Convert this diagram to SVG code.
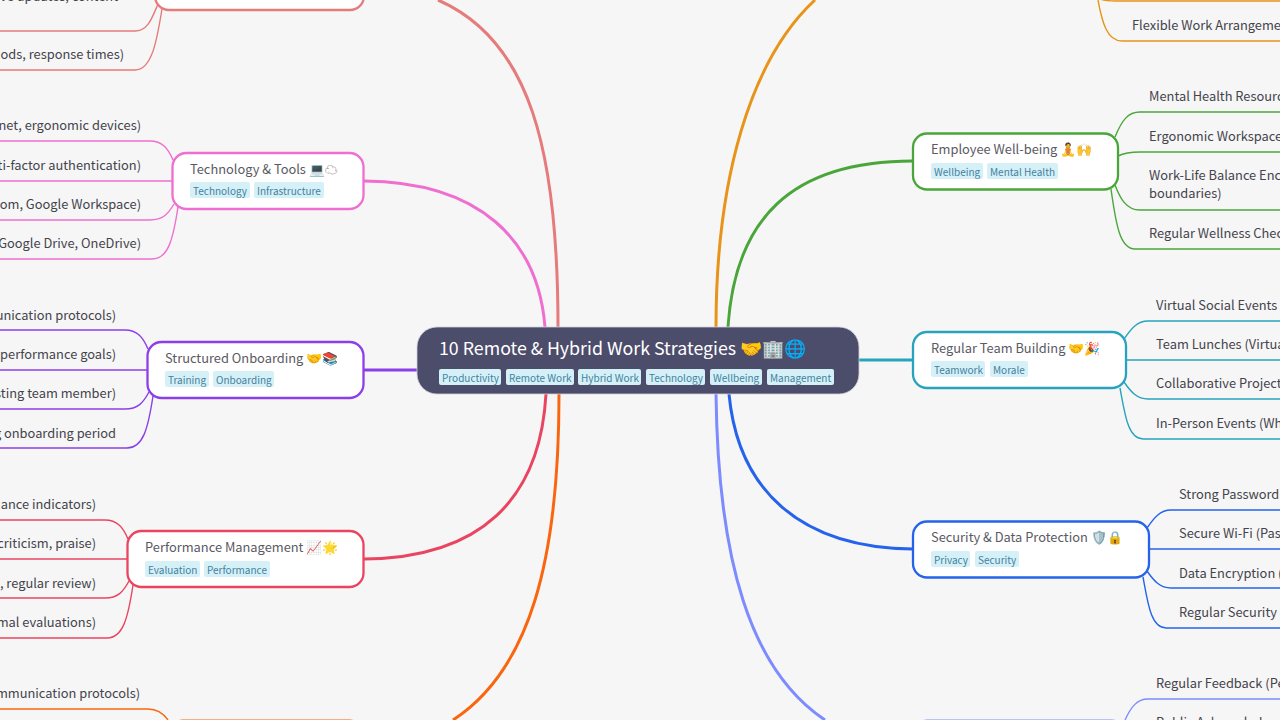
<svg xmlns="http://www.w3.org/2000/svg" width="1280" height="720" viewBox="0 0 1280 720">
<defs><style>
text{font-family:"Noto Sans CJK SC","Noto Sans",sans-serif}
.leaf{font-size:12.850px;fill:#44444c}
.title{font-size:12.850px;fill:#5a5a62}
.tag{font-size:10px;fill:#42829e}
.tb{fill:#d6f0f8}
.card{fill:#fff;stroke-width:2.300}
.c{fill:none;stroke-width:1.400}
.m{fill:none;stroke-width:3}
</style></defs>
<rect width="1280" height="720" fill="#f6f6f6"/>
<g id="connectors">
<path class="m" stroke="#e57b7b" d="M558 327C558 150 530 40 438 0"/>
<path class="m" stroke="#ef6fd0" d="M545 327C538 240 480 182 364 181"/>
<path class="m" stroke="#8b3fe8" d="M417 370H364"/>
<path class="m" stroke="#e94560" d="M546 394C540 500 480 558 364 559"/>
<path class="m" stroke="#f9660f" d="M559 394C559 560 530 670 453 720"/>
<path class="m" stroke="#e8941a" d="M716 327C716 180 750 60 815 0"/>
<path class="m" stroke="#4aa63a" d="M728 327C735 220 790 161 913 161"/>
<path class="m" stroke="#28a3bd" d="M859 360H913"/>
<path class="m" stroke="#2563eb" d="M729 394C738 490 800 548 913 549"/>
<path class="m" stroke="#7c8cff" d="M716 394C718 560 750 670 825 720"/>
<g class="c" stroke="#e57b7b"><path d="M0 31H135C148 31 152 18 158 4"/><path d="M0 70H135C152 70 157 40 162 9"/></g>
<g class="c" stroke="#ef6fd0"><path d="M0 141H150C162 141 168 148 173 160"/><path d="M0 181H173"/><path d="M0 220H150C163 220 168 214 174 204"/><path d="M0 259H152C168 259 173 240 178 207"/></g>
<g class="c" stroke="#8b3fe8"><path d="M0 330H125C137 330 143 337 148 349"/><path d="M0 370H148"/><path d="M0 409H125C138 409 143 403 149 392"/><path d="M0 448H127C143 448 148 429 153 396"/></g>
<g class="c" stroke="#e94560"><path d="M0 520H105C117 520 123 527 128 539"/><path d="M0 559H127"/><path d="M0 598H105C118 598 123 592 129 581"/><path d="M0 638H107C123 638 128 618 133 585"/></g>
<g class="c" stroke="#f9660f"><path d="M0 709H148C157 709 163 713 168 720"/></g>
<g class="c" stroke="#e8941a"><path d="M1280 1H1115C1105 1 1100 0 1097 -3"/><path d="M1280 41H1122C1107 41 1102 22 1098 0"/></g>
<g class="c" stroke="#4aa63a"><path d="M1280 112H1140C1128 112 1122 120 1115 137"/><path d="M1280 152H1140C1130 152 1124 153 1118 156"/><path d="M1280 210H1140C1126 210 1120 198 1115 185"/><path d="M1280 249H1135C1120 249 1116 225 1111 189"/></g>
<g class="c" stroke="#28a3bd"><path d="M1280 321H1148C1137 321 1131 329 1124 339"/><path d="M1280 360H1126"/><path d="M1280 399H1148C1137 399 1131 392 1124 382"/><path d="M1280 439H1143C1128 439 1125 415 1120 388"/></g>
<g class="c" stroke="#2563eb"><path d="M1280 510H1171C1160 510 1154 518 1147 528"/><path d="M1280 549H1149"/><path d="M1280 588H1171C1160 588 1154 581 1147 571"/><path d="M1280 628H1166C1151 628 1148 604 1143 577"/></g>
<g class="c" stroke="#7c8cff"><path d="M1280 699H1148C1137 699 1131 707 1125 720"/></g>
</g>
<g id="center"><rect x="417" y="327" width="442" height="67" rx="20" fill="#4c4c6b" stroke="#d0d0dc" stroke-width="0.800"/>
<text x="439" y="354.500" font-size="17.800" fill="#fff">10 Remote &amp; Hybrid Work Strategies 🤝🏢🌐</text>
<rect class="tb" x="439" y="369" width="62" height="16" rx="2"/><text class="tag" x="442" y="382">Productivity</text>
<rect class="tb" x="506" y="369" width="68" height="16" rx="2"/><text class="tag" x="509" y="382">Remote Work</text>
<rect class="tb" x="578" y="369" width="63" height="16" rx="2"/><text class="tag" x="581" y="382">Hybrid Work</text>
<rect class="tb" x="646" y="369" width="59" height="16" rx="2"/><text class="tag" x="649" y="382">Technology</text>
<rect class="tb" x="710" y="369" width="52" height="16" rx="2"/><text class="tag" x="713" y="382">Wellbeing</text>
<rect class="tb" x="767" y="369" width="67" height="16" rx="2"/><text class="tag" x="770" y="382">Management</text></g>
<g id="top-left-node"><rect class="card" x="155" y="-46" width="209" height="56" rx="14" stroke="#e57b7b"/></g>
<g id="tech"><rect class="card" x="172.500" y="153" width="191" height="56" rx="14" stroke="#ef6fd0"/><text class="title" x="190" y="173.500">Technology &amp; Tools 💻☁</text>
<rect class="tb" x="190" y="182" width="60" height="16" rx="2"/><text class="tag" x="193" y="195">Technology</text><rect class="tb" x="254" y="182" width="70" height="16" rx="2"/><text class="tag" x="257" y="195">Infrastructure</text></g>
<g id="onboard"><rect class="card" x="147.500" y="342" width="216" height="56" rx="14" stroke="#8b3fe8"/><text class="title" x="165" y="362.500">Structured Onboarding 🤝📚</text>
<rect class="tb" x="165" y="371" width="44" height="16" rx="2"/><text class="tag" x="168" y="384">Training</text><rect class="tb" x="213" y="371" width="61" height="16" rx="2"/><text class="tag" x="216" y="384">Onboarding</text></g>
<g id="perf"><rect class="card" x="127.500" y="531" width="236" height="56" rx="14" stroke="#e94560"/><text class="title" x="145" y="551.500">Performance Management 📈🌟</text>
<rect class="tb" x="145" y="561" width="55" height="16" rx="2"/><text class="tag" x="148" y="574">Evaluation</text><rect class="tb" x="204" y="561" width="66" height="16" rx="2"/><text class="tag" x="207" y="574">Performance</text></g>
<g id="bottom-left-node"><rect class="card" x="168.500" y="720.700" width="195.500" height="56" rx="14" stroke="#f9660f"/></g>
<g id="wellbeing"><rect class="card" x="913" y="133.500" width="205" height="56" rx="14" stroke="#4aa63a"/><text class="title" x="931" y="154">Employee Well-being 🧘🙌</text>
<rect class="tb" x="931" y="163" width="52" height="16" rx="2"/><text class="tag" x="934" y="176">Wellbeing</text><rect class="tb" x="987" y="163" width="71" height="16" rx="2"/><text class="tag" x="990" y="176">Mental Health</text></g>
<g id="team"><rect class="card" x="913" y="332" width="213" height="56" rx="14" stroke="#28a3bd"/><text class="title" x="931" y="353">Regular Team Building 🤝🎉</text>
<rect class="tb" x="931" y="361" width="54" height="16" rx="2"/><text class="tag" x="934" y="374">Teamwork</text><rect class="tb" x="990" y="361" width="38" height="16" rx="2"/><text class="tag" x="993" y="374">Morale</text></g>
<g id="security"><rect class="card" x="913" y="521.500" width="236" height="56" rx="14" stroke="#2563eb"/><text class="title" x="931" y="542">Security &amp; Data Protection 🛡️🔒</text>
<rect class="tb" x="931" y="551" width="39" height="16" rx="2"/><text class="tag" x="934" y="564">Privacy</text><rect class="tb" x="975" y="551" width="44" height="16" rx="2"/><text class="tag" x="978" y="564">Security</text></g>
<g id="bottom-right-node"><rect class="card" x="913" y="720.700" width="213" height="56" rx="14" stroke="#7c8cff"/></g>
<g id="leaves">
<text class="leaf" x="118" y="1" text-anchor="end">ve updates, content</text>
<text class="leaf" x="124" y="59" text-anchor="end">ods, response times)</text>
<text class="leaf" x="141" y="130" text-anchor="end">net, ergonomic devices)</text>
<text class="leaf" x="141" y="170" text-anchor="end">ti-factor authentication)</text>
<text class="leaf" x="141" y="209" text-anchor="end">om, Google Workspace)</text>
<text class="leaf" x="141" y="248" text-anchor="end">Google Drive, OneDrive)</text>
<text class="leaf" x="116" y="320" text-anchor="end">unication protocols)</text>
<text class="leaf" x="116" y="359" text-anchor="end">performance goals)</text>
<text class="leaf" x="116" y="398" text-anchor="end">sting team member)</text>
<text class="leaf" x="116" y="438" text-anchor="end">g onboarding period</text>
<text class="leaf" x="96" y="509" text-anchor="end">ance indicators)</text>
<text class="leaf" x="96" y="548" text-anchor="end">criticism, praise)</text>
<text class="leaf" x="96" y="588" text-anchor="end">, regular review)</text>
<text class="leaf" x="96" y="627" text-anchor="end">mal evaluations)</text>
<text class="leaf" x="140" y="698" text-anchor="end">mmunication protocols)</text>
<text class="leaf" x="1132" y="30">Flexible Work Arrangeme</text>
<text class="leaf" x="1149" y="101">Mental Health Resourc</text>
<text class="leaf" x="1149" y="141">Ergonomic Workspace</text>
<text class="leaf" x="1149" y="180">Work-Life Balance Enc</text>
<text class="leaf" x="1149" y="198">boundaries)</text>
<text class="leaf" x="1149" y="238">Regular Wellness Chec</text>
<text class="leaf" x="1156" y="310">Virtual Social Events</text>
<text class="leaf" x="1156" y="349">Team Lunches (Virtua</text>
<text class="leaf" x="1156" y="388">Collaborative Project</text>
<text class="leaf" x="1156" y="428">In-Person Events (Wh</text>
<text class="leaf" x="1179" y="499">Strong Password</text>
<text class="leaf" x="1179" y="538">Secure Wi-Fi (Pas</text>
<text class="leaf" x="1179" y="578">Data Encryption (</text>
<text class="leaf" x="1179" y="617">Regular Security</text>
<text class="leaf" x="1156" y="688">Regular Feedback (Pe</text>
<text class="leaf" x="1156" y="727">Public Acknowledg</text>
</g>
</svg>
